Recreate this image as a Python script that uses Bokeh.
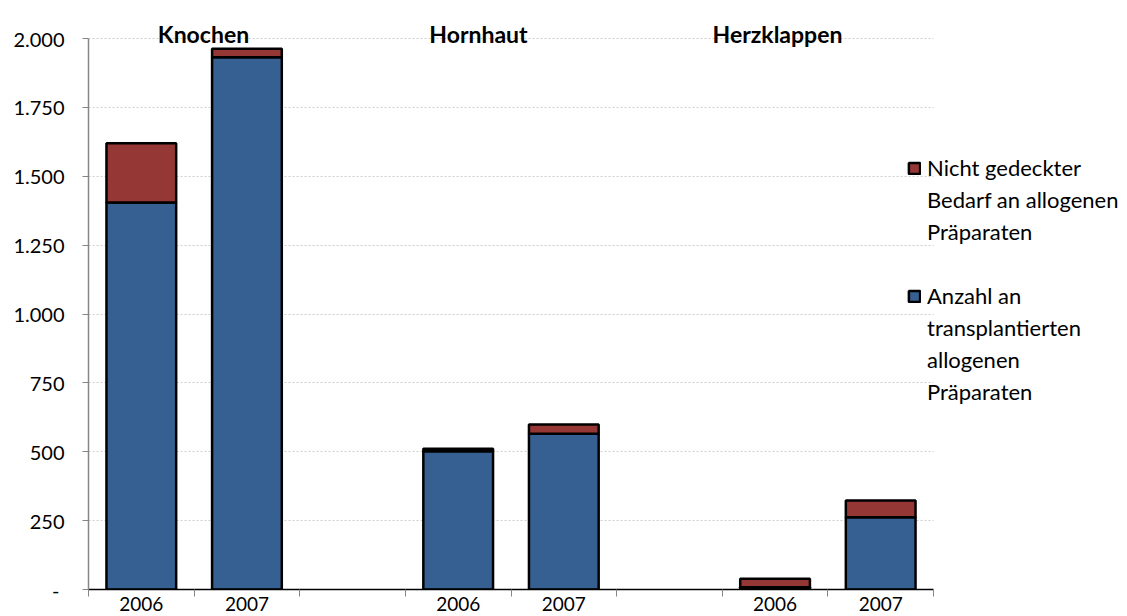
from bokeh.plotting import figure
from bokeh.models import (Range1d, LinearAxis, FixedTicker, ColumnDataSource,
                          Legend, LegendItem, Label)
from bokeh.embed import file_html
from bokeh.resources import INLINE

# ---- data ----
groups = ["Knochen", "Hornhaut", "Herzklappen"]
years = ["2006", "2007"]
transplantiert = [1405, 1932, 502, 565, 8, 262]      # Anzahl an transplantierten allogenen Präparaten
nicht_gedeckt = [215, 31, 9, 34, 31, 61]            # Nicht gedeckter Bedarf an allogenen Präparaten
y_ticks = [0, 250, 500, 750, 1000, 1250, 1500, 1750, 2000]
y_tick_labels = ["-\u00a0", "250", "500", "750", "1.000", "1.250", "1.500", "1.750", "2.000"]
legend_red_lines = ["Nicht gedeckter", "Bedarf an allogenen", "Präparaten"]
legend_blue_lines = ["Anzahl an", "transplantierten", "allogenen", "Präparaten"]

BLUE = "#376092"
RED = "#953735"
FONT = "Lato"

# category slots: each group gets one slot per year, plus one empty slot between groups
per_group = len(years) + 1
n_slots = len(groups) * per_group - 1
slot_x = [gi * per_group + yi + 0.5 for gi in range(len(groups)) for yi in range(len(years))]
year_labels = [y for _ in groups for y in years]

source = ColumnDataSource(dict(x=slot_x, blue=transplantiert, red=nicht_gedeckt))

FRAME_LEFT, AXIS_END, W, H = 88, 933, 1127, 616
x_end = n_slots * (W - FRAME_LEFT) / (AXIS_END - FRAME_LEFT)   # leave room on the right for the legend

p = figure(width=W, height=H,
           x_range=Range1d(0, x_end), y_range=Range1d(0, 2138),
           x_axis_location=None,
           output_backend="svg", toolbar_location=None,
           min_border_left=FRAME_LEFT, min_border_right=0, min_border_top=0, min_border_bottom=27)

renderers = p.vbar_stack(["blue", "red"], x="x", width=0.66, source=source,
                         fill_color=[BLUE, RED], line_color="black", line_width=2.5)
r_blue, r_red = renderers
# empty renderer used for the continuation lines of the legend labels (draws nothing)
r_blank = p.scatter(x=[], y=[], size=0, fill_alpha=0, line_alpha=0)

# grid
p.xgrid.grid_line_color = None
yg = p.ygrid[0]
yg.ticker = FixedTicker(ticks=y_ticks)
yg.grid_line_color = "#cfcfcf"
yg.grid_line_dash = "2 2"
if "cross_bounds" in yg.properties():
    yg.cross_bounds = (0, n_slots)
else:
    yg.grid_line_color = None
    p.segment(x0=[0] * len(y_ticks), x1=[n_slots] * len(y_ticks), y0=y_ticks, y1=y_ticks,
              line_color="#cfcfcf", line_dash="2 2", line_width=1, level="underlay")
p.outline_line_color = None
p.background_fill_color = "white"

# y axis
ya = p.yaxis[0]
ya.ticker = FixedTicker(ticks=y_ticks)
ya.bounds = (y_ticks[0], y_ticks[-1])
ya.major_label_overrides = {t: l for t, l in zip(y_ticks, y_tick_labels)}
ya.axis_line_color = "#868686"
ya.axis_line_width = 1.5
ya.major_tick_line_color = "#868686"
ya.major_tick_out = 6
ya.major_tick_in = 0
ya.minor_tick_line_color = None
ya.major_label_standoff = 18
ya.major_label_text_font = FONT
ya.major_label_text_font_size = "20px"
ya.major_label_text_color = "black"

# slot boundary ticks + axis line
sa = LinearAxis(ticker=FixedTicker(ticks=list(range(n_slots + 1))), bounds=(0, n_slots))
sa.major_label_overrides = {i: "" for i in range(n_slots + 1)}
sa.major_label_text_font_size = "0px"
sa.major_label_standoff = 0
sa.axis_line_color = "black"
sa.axis_line_width = 1.5
sa.major_tick_line_color = "#868686"
sa.major_tick_out = 7
sa.major_tick_in = 0
sa.minor_tick_line_color = None
p.add_layout(sa, "below")

# year labels at the slot centres
ca = LinearAxis(ticker=FixedTicker(ticks=slot_x))
ca.major_label_overrides = {x: y for x, y in zip(slot_x, year_labels)}
ca.axis_line_color = None
ca.major_tick_line_color = None
ca.major_tick_out = 0
ca.major_tick_in = 0
ca.minor_tick_line_color = None
ca.major_label_standoff = 0
ca.major_label_text_font = FONT
ca.major_label_text_font_size = "19px"
ca.major_label_text_color = "black"
p.add_layout(ca, "below")

# group titles
for g, xs in zip(groups, [115, 390, 689]):
    p.add_layout(Label(x=xs, y=y_ticks[-1], x_units="screen", y_units="data", text=g,
                       text_font=FONT, text_font_style="bold", text_font_size="23px",
                       text_align="center", text_baseline="alphabetic", y_offset=5,
                       text_color="black"))

items = [LegendItem(label=legend_red_lines[0], renderers=[r_red])]
items += [LegendItem(label=t, renderers=[r_blank]) for t in legend_red_lines[1:]]
items += [LegendItem(label="\u00a0", renderers=[r_blank])]
items += [LegendItem(label=legend_blue_lines[0], renderers=[r_blue])]
items += [LegendItem(label=t, renderers=[r_blank]) for t in legend_blue_lines[1:]]

legend = Legend(items=items, location=(819, 184), orientation="vertical",
                label_text_font=FONT, label_text_font_size="22px", label_text_color="black",
                label_standoff=6, label_height=20,
                glyph_width=14, glyph_height=14, spacing=5,
                padding=0, margin=0, border_line_color=None,
                background_fill_alpha=0.0)
p.add_layout(legend, "center")

open("out.html", "w").write(file_html(p, INLINE))
